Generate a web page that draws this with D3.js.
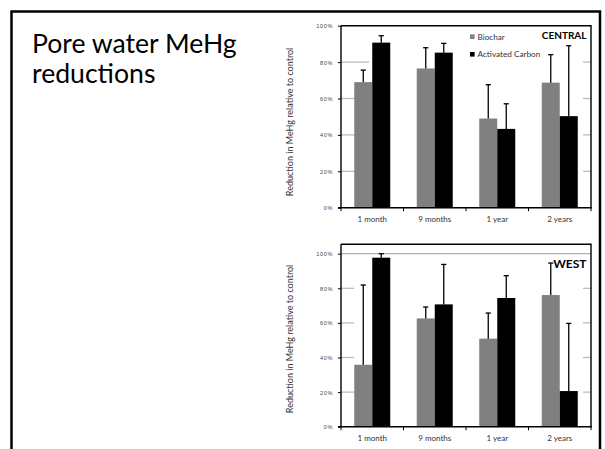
<!DOCTYPE html>
<html>
<head>
<meta charset="utf-8">
<script src="https://cdn.jsdelivr.net/npm/d3@7/dist/d3.min.js"></script>
<style>
  html, body { margin: 0; padding: 0; background: #fff; }
  svg { display: block; }
</style>
</head>
<body>
<div id="chart"></div>
<script>
// ---------- data ----------
const categories = ["1 month", "9 months", "1 year", "2 years"];
const seriesNames = ["Biochar", "Activated Carbon"];
const yTicks = [0, 20, 40, 60, 80, 100];
const titleLines = ["Pore water MeHg", "reductions"];
const yAxisTitle = "Reduction in MeHg relative to control";

const centralBiochar = [69, 76.5, 49, 68.7];
const centralBiocharErr = [75.6, 87.9, 67.6, 84.1];
const centralCarbon = [90.7, 85.2, 43.3, 50.3];
const centralCarbonErr = [94.5, 90.3, 57.1, 89.0];

const westBiochar = [35.8, 62.6, 50.9, 76.1];
const westBiocharErr = [81.9, 69.2, 65.7, 94.6];
const westCarbon = [97.7, 70.7, 74.4, 20.6];
const westCarbonErr = [100, 93.8, 87.3, 59.7];

const panels = [
  { name: "CENTRAL", values: [centralBiochar, centralCarbon], errs: [centralBiocharErr, centralCarbonErr],
    y0: 207.7, y100: 25.7, frameTop: 25.7, gridLeftEnd: 369, showTopGrid: false, legend: true,
    labelSize: 10, labelY: 38.5, titleCenter: 122 },
  { name: "WEST", values: [westBiochar, westCarbon], errs: [westBiocharErr, westCarbonErr],
    y0: 426.7, y100: 253.7, frameTop: 244.3, gridLeftEnd: 354, showTopGrid: true, legend: false,
    labelSize: 12, labelY: 268, titleCenter: 339 }
];

const colors = ["#808080", "#000000"];

// ---------- drawing ----------
const W = 605, H = 449;
const svg = d3.select("#chart").append("svg").attr("width", W).attr("height", H);
svg.append("rect").attr("width", W).attr("height", H).attr("fill", "#fff");

// slide frame
svg.append("path")
  .attr("d", `M11.5,${H} L11.5,11.5 L600,11.5 L600,${H}`)
  .attr("fill", "none").attr("stroke", "#000").attr("stroke-width", 2.5);

// title
svg.append("text")
  .attr("font-family", "Lato, 'Open Sans', sans-serif")
  .attr("font-size", 26.6).attr("fill", "#000")
  .selectAll("tspan").data(titleLines).join("tspan")
  .attr("x", 32).attr("y", (d, i) => 53 + i * 30)
  .text(d => d);

const x = d3.scaleBand().domain(categories).range([341, 591]).padding(0);
const xInner = d3.scaleBand().domain(seriesNames).range([0, x.bandwidth()])
  .paddingInner(0).paddingOuter(0.736);

const font = "Lato, 'Open Sans', sans-serif";

panels.forEach(p => {
  const y = d3.scaleLinear().domain([0, 100]).range([p.y0, p.y100]);
  const g = svg.append("g");
  const L = 341, R = 591;

  // gridlines (only visible at edges, as in the reference)
  yTicks.filter(t => t > 0 && t < 100).forEach(t => {
    g.append("line").attr("x1", L).attr("x2", p.gridLeftEnd).attr("y1", y(t)).attr("y2", y(t))
      .attr("stroke", "#b8b8b8").attr("stroke-width", 1.2);
    g.append("line").attr("x1", 583).attr("x2", R).attr("y1", y(t)).attr("y2", y(t))
      .attr("stroke", "#b8b8b8").attr("stroke-width", 1.2);
  });
  if (p.showTopGrid) {
    g.append("line").attr("x1", L).attr("x2", R).attr("y1", y(100)).attr("y2", y(100))
      .attr("stroke", "#b0b0b0").attr("stroke-width", 1.2);
  }

  // bars
  seriesNames.forEach((s, si) => {
    g.selectAll(null).data(p.values[si]).join("rect")
      .attr("x", (d, i) => x(categories[i]) + xInner(s))
      .attr("width", xInner.bandwidth())
      .attr("y", d => y(d))
      .attr("height", d => y(0) - y(d))
      .attr("fill", colors[si]);
    // error bars
    p.errs[si].forEach((e, i) => {
      const cx = x(categories[i]) + xInner(s) + xInner.bandwidth() / 2;
      g.append("line").attr("x1", cx).attr("x2", cx).attr("y1", y(p.values[si][i])).attr("y2", y(e))
        .attr("stroke", "#000").attr("stroke-width", 1.3);
      g.append("line").attr("x1", cx - 2.6).attr("x2", cx + 2.6).attr("y1", y(e)).attr("y2", y(e))
        .attr("stroke", "#000").attr("stroke-width", 1.3);
    });
  });

  // frame: top and right
  g.append("path").attr("d", `M${L},${p.frameTop} L${R},${p.frameTop} L${R},${y(0)}`)
    .attr("fill", "none").attr("stroke", "#000").attr("stroke-width", 1.4);

  // y axis
  const yAxis = d3.axisLeft(y).tickValues(yTicks).tickSize(3).tickFormat(d => d + "%");
  const ya = g.append("g").attr("transform", `translate(${L},0)`).call(yAxis);
  ya.select(".domain").attr("d", `M0,${y(0)}V${p.frameTop}`).attr("stroke", "#000").attr("stroke-width", 1.4);
  ya.selectAll(".tick line").attr("stroke", "#000").attr("stroke-width", 1);
  ya.selectAll(".tick text").attr("x", -8).attr("dy", "0.35em")
    .attr("font-family", "'Liberation Sans', sans-serif").attr("font-size", 5.5)
    .attr("letter-spacing", 0.7).attr("fill", "#444");

  // x axis
  const xa = g.append("g").attr("transform", `translate(0,${y(0)})`);
  xa.append("line").attr("x1", L - 3).attr("x2", R + 1).attr("stroke", "#000").attr("stroke-width", 1.4);
  [...categories.map(c => x(c)), R].forEach(v => {
    xa.append("line").attr("x1", v).attr("x2", v).attr("y1", 0).attr("y2", 3.5)
      .attr("stroke", "#000").attr("stroke-width", 1);
  });
  xa.selectAll("text.cat").data(categories).join("text").attr("class", "cat")
    .attr("x", d => x(d) + x.bandwidth() / 2).attr("y", 14)
    .attr("text-anchor", "middle").attr("font-family", font).attr("font-size", 8)
    .attr("fill", "#333").text(d => d);

  // y title
  g.append("text")
    .attr("transform", `translate(293,${p.titleCenter}) rotate(-90)`)
    .attr("text-anchor", "middle").attr("font-family", font).attr("font-size", 9)
    .attr("fill", "#333").text(yAxisTitle);

  // panel label
  g.append("text").attr("x", 586.5).attr("y", p.labelY).attr("text-anchor", "end")
    .attr("font-family", font).attr("font-weight", "bold").attr("font-size", p.labelSize)
    .attr("fill", "#000").text(p.name);

  // legend
  if (p.legend) {
    const lg = g.append("g");
    seriesNames.forEach((s, i) => {
      const cy = 36.7 + i * 17.6;
      lg.append("rect").attr("x", 470).attr("y", cy - 2.3).attr("width", 4.6).attr("height", 4.6)
        .attr("fill", colors[i]);
      lg.append("text").attr("x", 477.5).attr("y", cy).attr("dy", "0.35em")
        .attr("font-family", font).attr("font-size", 8.2).attr("fill", "#333").text(s);
    });
  }
});
</script>
</body>
</html>
